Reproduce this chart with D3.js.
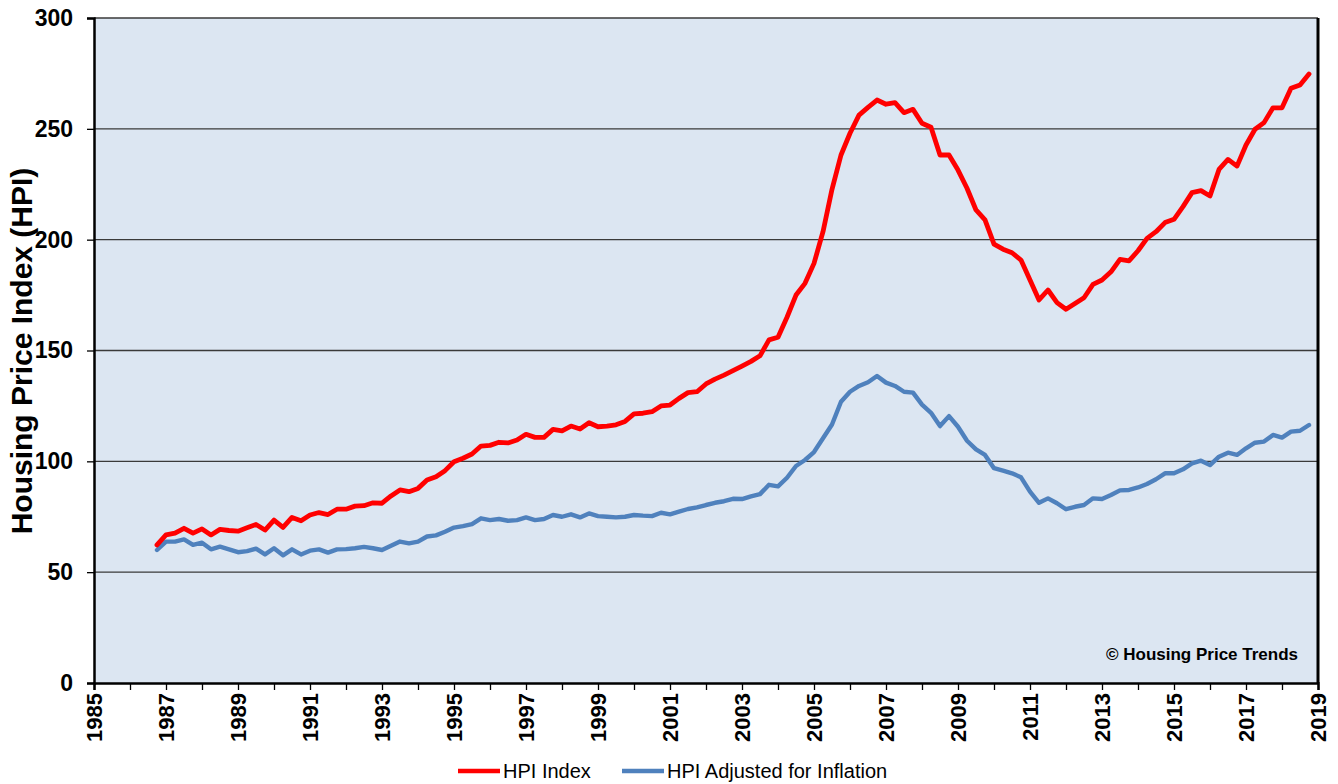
<!DOCTYPE html>
<html>
<head>
<meta charset="utf-8">
<script src="https://cdn.jsdelivr.net/npm/d3@7"></script>
<style>
  html, body { margin: 0; padding: 0; background: #ffffff; }
  svg { display: block; }
</style>
</head>
<body>
<svg id="chart" width="1338" height="784"></svg>
<script>
// ---- Data (quarterly, first point = 1986 Q4 at 1986.75) ----
const firstQuarter = 1986.75;
const quarterStep = 0.25;

const hpiIndex = [
  62.3, 66.8, 67.6, 69.8, 67.6, 69.5, 66.8, 69.3, 68.8, 68.5,
  70.0, 71.5, 69.0, 73.5, 70.2, 74.7, 73.2, 75.8, 76.9, 76.0,
  78.4, 78.4, 79.8, 80.0, 81.3, 81.1, 84.4, 87.1, 86.3, 87.8,
  91.6, 93.1, 95.8, 99.8, 101.4, 103.3, 106.9, 107.2, 108.6, 108.3,
  109.6, 112.2, 110.8, 110.8, 114.4, 113.7, 115.9, 114.6, 117.4, 115.6,
  115.9, 116.5, 118.0, 121.4, 121.7, 122.4, 125.0, 125.4, 128.4, 131.0,
  131.4, 134.9, 137.1, 138.9, 140.9, 143.0, 145.1, 147.6, 154.8, 156.0,
  165.0, 175.0, 180.3, 189.3, 203.6, 222.7, 238.2, 248.0, 256.2, 259.7,
  263.0, 261.1, 261.8, 257.3, 258.8, 252.5, 250.7, 238.2, 238.2, 231.4,
  223.2, 213.4, 208.9, 198.0, 195.7, 194.1, 190.8, 181.8, 172.8, 177.3,
  171.6, 168.6, 171.2, 173.8, 179.8, 181.8, 185.5, 191.1, 190.4, 195.0,
  200.6, 203.6, 207.7, 209.2, 214.9, 221.2, 222.1, 219.7, 231.7, 236.2,
  233.2, 242.7, 249.8, 252.8, 259.5, 259.5, 268.3, 269.8, 274.7
];

const hpiAdjusted = [
  60.0, 63.8, 63.8, 64.8, 62.3, 63.3, 60.3, 61.5, 60.3, 59.0,
  59.5, 60.6, 58.0, 60.8, 57.6, 60.3, 58.0, 59.7, 60.3, 58.8,
  60.3, 60.4, 60.8, 61.4, 60.8, 60.0, 61.9, 63.8, 63.0, 63.8,
  66.1, 66.6, 68.2, 70.1, 70.8, 71.7, 74.3, 73.5, 74.0, 73.2,
  73.5, 74.7, 73.5, 74.0, 75.8, 75.0, 76.1, 74.7, 76.5, 75.3,
  75.0, 74.7, 75.0, 75.8, 75.5, 75.3, 76.8, 76.1, 77.3, 78.5,
  79.2, 80.3, 81.3, 82.0, 83.1, 83.0, 84.2, 85.2, 89.4, 88.7,
  92.6, 97.9, 100.6, 104.2, 110.4, 116.6, 126.9, 131.4, 134.0, 135.7,
  138.5, 135.5, 134.0, 131.4, 131.0, 125.6, 121.9, 115.9, 120.4, 115.6,
  109.3, 105.4, 102.9, 96.9, 95.8, 94.6, 92.8, 86.3, 81.3, 83.3,
  81.1, 78.4, 79.5, 80.3, 83.3, 83.0, 84.8, 86.9, 87.1, 88.2,
  89.8, 91.9, 94.6, 94.6, 96.4, 99.1, 100.3, 98.3, 102.1, 103.9,
  102.9, 105.9, 108.4, 108.9, 111.9, 110.7, 113.4, 113.8, 116.4
];

const yTicks = [0, 50, 100, 150, 200, 250, 300];
const xTickYears = d3.range(1985, 2020);          // a tick every year
const xLabelYears = [1985, 1987, 1989, 1991, 1993, 1995, 1997, 1999, 2001,
                     2003, 2005, 2007, 2009, 2011, 2013, 2015, 2017, 2019];

const seriesNames = ["HPI Index", "HPI Adjusted for Inflation"];
const seriesColors = ["#ff0000", "#4f81bd"];
const yTitle = "Housing Price Index (HPI)";
const credit = "\u00a9 Housing Price Trends";

// ---- Layout ----
const svg = d3.select("#chart");
const plotL = 94, plotR = 1318, plotT = 18, plotB = 683;

const x = d3.scaleLinear().domain([1985, 2019]).range([plotL, plotR]);
const y = d3.scaleLinear().domain([0, 300]).range([plotB, plotT]);

const font = "'Liberation Sans', Arial, sans-serif";

// plot background
svg.append("rect")
  .attr("x", plotL).attr("y", plotT)
  .attr("width", plotR - plotL).attr("height", plotB - plotT)
  .attr("fill", "#dce6f2");

// gridlines
svg.append("g")
  .selectAll("line")
  .data(yTicks.filter(d => d > 0))
  .join("line")
  .attr("x1", plotL).attr("x2", plotR)
  .attr("y1", d => y(d)).attr("y2", d => y(d))
  .attr("stroke", "#3a3a3a")
  .attr("stroke-width", 1.3);

// series lines
const dataSets = [hpiIndex, hpiAdjusted];
const line = d3.line()
  .x((d, i) => x(firstQuarter + i * quarterStep))
  .y(d => y(d));

[1, 0].forEach(k => {
  svg.append("path")
    .datum(dataSets[k])
    .attr("d", line)
    .attr("fill", "none")
    .attr("stroke", seriesColors[k])
    .attr("stroke-width", k === 0 ? 4.8 : 4.4)
    .attr("stroke-linejoin", "round")
    .attr("stroke-linecap", "round");
});

// y axis
const yAxis = d3.axisLeft(y)
  .tickValues(yTicks)
  .tickSize(7)
  .tickPadding(14)
  .tickFormat(d3.format("d"));
const gy = svg.append("g")
  .attr("transform", `translate(${plotL},0)`)
  .call(yAxis);
gy.select(".domain").attr("stroke", "#000").attr("stroke-width", 2.5);
gy.selectAll(".tick line").attr("stroke", "#000").attr("stroke-width", 1.3);
gy.selectAll(".tick text")
  .attr("fill", "#000")
  .style("font-family", font)
  .style("font-weight", "bold")
  .style("font-size", "23px");

// right border
svg.append("line")
  .attr("x1", plotR).attr("x2", plotR)
  .attr("y1", plotT).attr("y2", plotB)
  .attr("stroke", "#000").attr("stroke-width", 3);

// x axis
const xAxis = d3.axisBottom(x)
  .tickValues(xTickYears)
  .tickSize(7)
  .tickFormat(d => xLabelYears.includes(d) ? String(d) : "");
const gx = svg.append("g")
  .attr("transform", `translate(0,${plotB})`)
  .call(xAxis);
gx.select(".domain").attr("stroke", "#000").attr("stroke-width", 2.5);
gx.selectAll(".tick line").attr("stroke", "#000").attr("stroke-width", 1.3);
gx.selectAll(".tick text")
  .attr("fill", "#000")
  .attr("transform", "rotate(-90)")
  .attr("x", -10)
  .attr("y", 0)
  .attr("dy", "0.35em")
  .attr("text-anchor", "end")
  .style("font-family", font)
  .style("font-weight", "bold")
  .style("font-size", "22px");

// y title (drawn over the tick labels, as in the original)
svg.append("text")
  .attr("transform", `translate(32,351) rotate(-90)`)
  .attr("text-anchor", "middle")
  .style("font-family", font)
  .style("font-weight", "bold")
  .style("font-size", "30px")
  .attr("fill", "#000")
  .text(yTitle);

// credit
svg.append("text")
  .attr("x", 1298).attr("y", 660)
  .attr("text-anchor", "end")
  .style("font-family", font)
  .style("font-weight", "bold")
  .style("font-size", "17px")
  .attr("fill", "#000")
  .text(credit);

// legend
const legendItems = [
  { name: seriesNames[0], color: seriesColors[0], x0: 458 },
  { name: seriesNames[1], color: seriesColors[1], x0: 622 }
];
const lg = svg.append("g");
legendItems.forEach(it => {
  lg.append("line")
    .attr("x1", it.x0).attr("x2", it.x0 + 42)
    .attr("y1", 771).attr("y2", 771)
    .attr("stroke", it.color).attr("stroke-width", 4.5);
  lg.append("text")
    .attr("x", it.x0 + 45).attr("y", 778)
    .style("font-family", font)
    .style("font-size", "20px")
    .attr("fill", "#000")
    .text(it.name);
});
</script>
</body>
</html>
